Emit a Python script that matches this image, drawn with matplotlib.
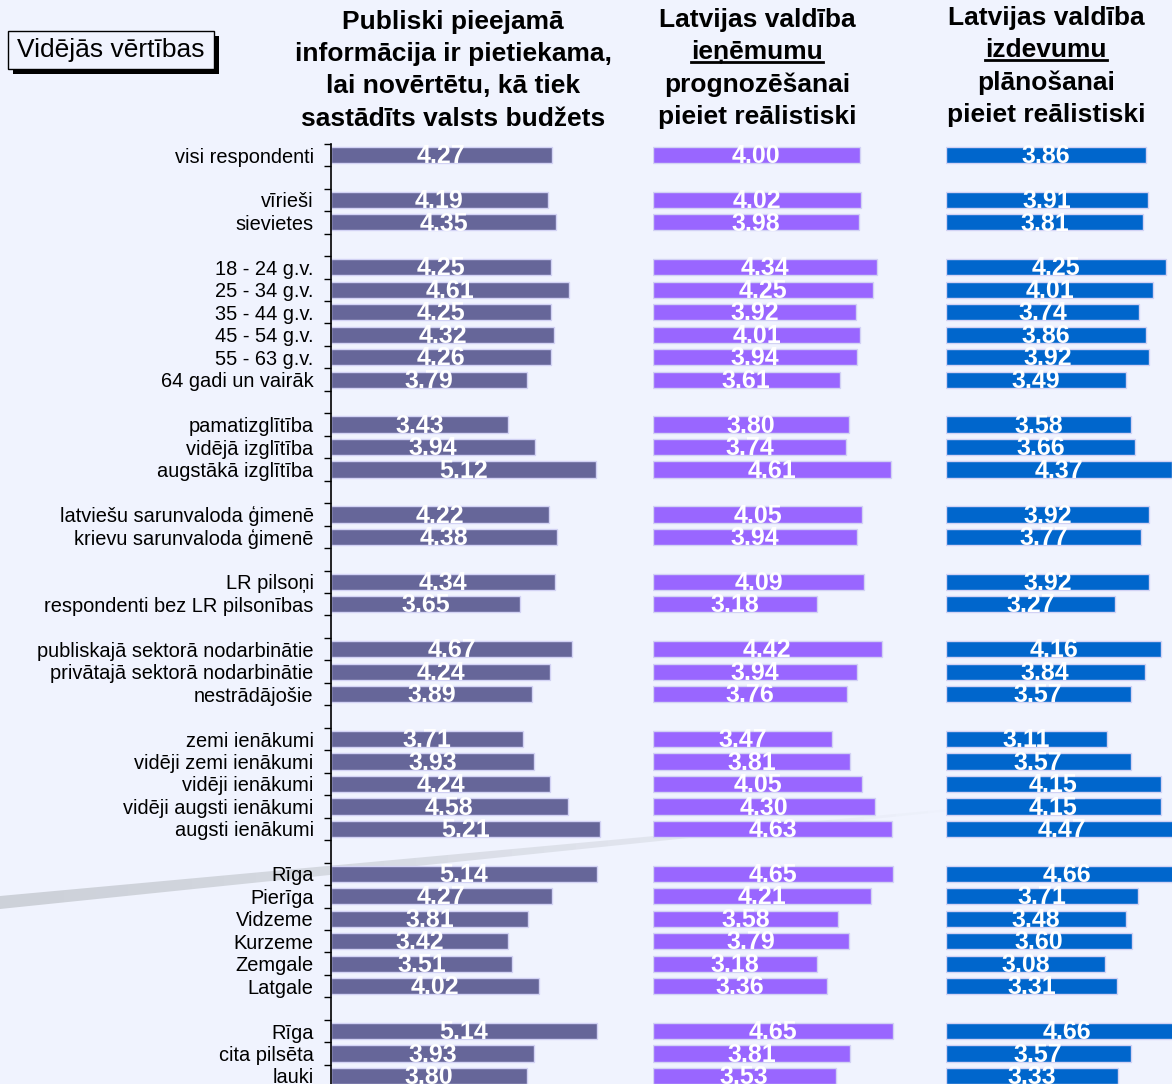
import numpy as np
import matplotlib
matplotlib.use('Agg')
import matplotlib.pyplot as plt
from matplotlib.patches import Rectangle, Polygon
from matplotlib.lines import Line2D

plt.rcParams['font.family'] = ['Liberation Sans', 'DejaVu Sans']

# Row labels ('' = spacer row between groups)
categories = [
    'visi respondenti', '',
    'vīrieši', 'sievietes', '',
    '18 - 24 g.v.', '25 - 34 g.v.', '35 - 44 g.v.', '45 - 54 g.v.', '55 - 63 g.v.',
    '64 gadi un vairāk', '',
    'pamatizglītība', 'vidējā izglītība', 'augstākā izglītība', '',
    'latviešu sarunvaloda ģimenē', 'krievu sarunvaloda ģimenē', '',
    'LR pilsoņi', 'respondenti bez LR pilsonības', '',
    'publiskajā sektorā nodarbinātie', 'privātajā sektorā nodarbinātie', 'nestrādājošie', '',
    'zemi ienākumi', 'vidēji zemi ienākumi', 'vidēji ienākumi', 'vidēji augsti ienākumi',
    'augsti ienākumi', '',
    'Rīga', 'Pierīga', 'Vidzeme', 'Kurzeme', 'Zemgale', 'Latgale', '',
    'Rīga', 'cita pilsēta', 'lauki',
]

N = np.nan
info_values = [4.27, N, 4.19, 4.35, N, 4.25, 4.61, 4.25, 4.32, 4.26, 3.79, N,
               3.43, 3.94, 5.12, N, 4.22, 4.38, N, 4.34, 3.65, N, 4.67, 4.24, 3.89, N,
               3.71, 3.93, 4.24, 4.58, 5.21, N, 5.14, 4.27, 3.81, 3.42, 3.51, 4.02, N,
               5.14, 3.93, 3.80]
revenue_values = [4.00, N, 4.02, 3.98, N, 4.34, 4.25, 3.92, 4.01, 3.94, 3.61, N,
                  3.80, 3.74, 4.61, N, 4.05, 3.94, N, 4.09, 3.18, N, 4.42, 3.94, 3.76, N,
                  3.47, 3.81, 4.05, 4.30, 4.63, N, 4.65, 4.21, 3.58, 3.79, 3.18, 3.36, N,
                  4.65, 3.81, 3.53]
spending_values = [3.86, N, 3.91, 3.81, N, 4.25, 4.01, 3.74, 3.86, 3.92, 3.49, N,
                   3.58, 3.66, 4.37, N, 3.92, 3.77, N, 3.92, 3.27, N, 4.16, 3.84, 3.57, N,
                   3.11, 3.57, 4.15, 4.15, 4.47, N, 4.66, 3.71, 3.48, 3.60, 3.08, 3.31, N,
                   4.66, 3.57, 3.33]

titles = [
    ['Publiski pieejamā', 'informācija ir pietiekama,', 'lai novērtētu, kā tiek',
     'sastādīts valsts budžets'],
    ['Latvijas valdība', 'ieņēmumu', 'prognozēšanai', 'pieiet reālistiski'],
    ['Latvijas valdība', 'izdevumu', 'plānošanai', 'pieiet reālistiski'],
]
underlined_line = [None, 1, 1]
legend_text = 'Vidējās vērtības'

bg = '#f0f3fe'
colors = ['#666699', '#9966ff', '#0066cc']

W, H = 1172, 1084
fig = plt.figure(figsize=(W / 100, H / 100), dpi=100, facecolor=bg)


def fx(px):
    return px / W


def fy(py):
    return 1 - py / H


# grey swoosh in the background, fading to the right
x0s, x1s = 0, 960
n_seg = 30
for i in range(n_seg):
    t0, t1 = i / n_seg, (i + 1) / n_seg
    xa, xb = x0s + (x1s - x0s) * t0, x0s + (x1s - x0s) * t1
    top_a, top_b = 896 - 88 * t0, 896 - 88 * t1
    th_a, th_b = 13 * (1 - t0) + 2 * t0, 13 * (1 - t1) + 2 * t1
    poly = Polygon([(fx(xa), fy(top_a)), (fx(xb), fy(top_b)),
                    (fx(xb), fy(top_b + th_b)), (fx(xa), fy(top_a + th_a))],
                   closed=True, transform=fig.transFigure, facecolor='#cdd1d9',
                   edgecolor='none', alpha=max(0.0, 1 - t0 ** 1.3), zorder=0)
    fig.patches.append(poly)

rows = np.arange(len(categories))
px_per_unit = 51.7
top_px, bot_px = 155 - 11.23, 1076 + 11.23
panel_x = [331, 653, 946]
xmax = 6.0

all_values = [info_values, revenue_values, spending_values]
for k in range(3):
    w_px = px_per_unit * xmax
    ax = fig.add_axes([fx(panel_x[k]), fy(bot_px), fx(w_px), (bot_px - top_px) / H])
    ax.set_zorder(2)
    ax.set_facecolor('none')
    ax.set_xlim(0, xmax)
    ax.set_ylim(len(categories) - 0.5, -0.5)
    vals = np.array(all_values[k], dtype=float)
    ax.barh(rows, vals, height=0.72, color=colors[k], edgecolor='#d2d2f4',
            linewidth=1, zorder=2)
    for r, v in zip(rows, vals):
        if not np.isnan(v):
            ax.text(v / 2, r + 0.05, f'{v:.2f}', ha='center', va='center',
                    color='white', fontsize=18, fontweight='bold', zorder=3)
    ax.set_xticks([])
    for s in ['top', 'right', 'bottom']:
        ax.spines[s].set_visible(False)
    if k == 0:
        ax.spines['left'].set_color('black')
        ax.spines['left'].set_linewidth(1.2)
        ax.set_yticks(np.arange(-0.5, len(categories), 1.0))
        ax.set_yticklabels([])
        ax.tick_params(axis='y', which='major', length=5, width=1, direction='out')
        ax.set_yticks(rows, categories, minor=True)
        ax.tick_params(axis='y', which='minor', length=0, pad=12.5, labelsize=14.4)
    else:
        ax.spines['left'].set_visible(False)
        ax.set_yticks([])

# column titles
title_cx = [453, 757, 1046]
title_y0 = [22, 20, 18]
line_gap = 32.2
fig.canvas.draw()
renderer = fig.canvas.get_renderer()
for k in range(3):
    for j, line in enumerate(titles[k]):
        t = fig.text(fx(title_cx[k]), fy(title_y0[k] + j * line_gap), line,
                     ha='center', va='center', fontsize=19, fontweight='bold',
                     color='black')
        if underlined_line[k] == j:
            bb = t.get_window_extent(renderer)
            uy = bb.y0 + 2
            fig.lines.append(Line2D([bb.x0 / W, bb.x1 / W], [uy / H, uy / H],
                                    transform=fig.transFigure, color='black',
                                    linewidth=2))

# legend box with drop shadow
fig.patches.append(Rectangle((fx(13), fy(74)), fx(206), 38 / H, transform=fig.transFigure,
                             facecolor='black', edgecolor='none', zorder=5))
fig.patches.append(Rectangle((fx(8), fy(69)), fx(206), 38 / H, transform=fig.transFigure,
                             facecolor=bg, edgecolor='black', linewidth=1, zorder=6))
fig.text(fx(111), fy(50), legend_text, ha='center', va='center', fontsize=19,
         color='black', zorder=7)

fig.savefig('out.png', dpi=100, facecolor=bg)
